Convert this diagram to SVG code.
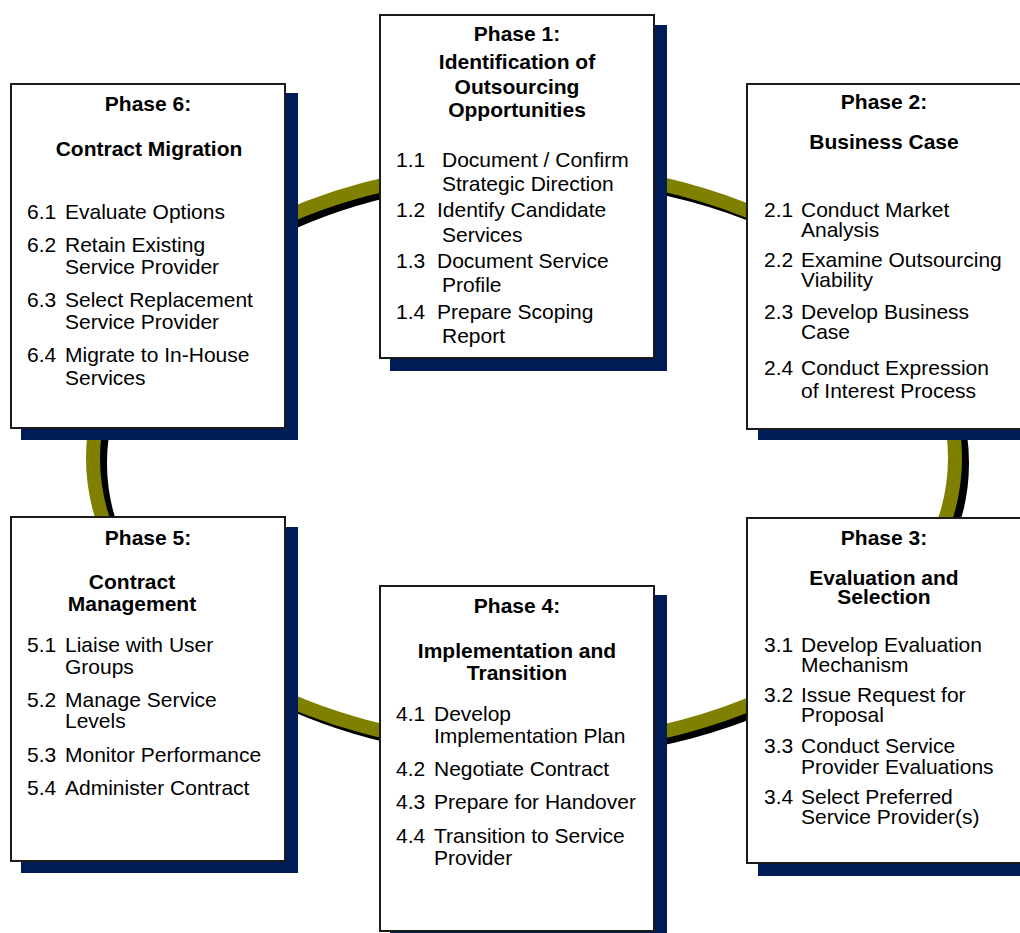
<svg xmlns="http://www.w3.org/2000/svg" width="1020" height="933" viewBox="0 0 1020 933">
<style>
.sh{fill:#001c57}
.bx{fill:#ffffff;stroke:#1a1a1a;stroke-width:2}
text{font-family:"Liberation Sans",Arial,sans-serif;font-size:21px;fill:#000}
.t{font-weight:bold;text-anchor:middle}
</style>
<rect width="1020" height="933" fill="#ffffff"/>
<g id="connectors">
<ellipse cx="531" cy="463" rx="431" ry="289" fill="none" stroke="#000" stroke-width="14"/>
<ellipse cx="524" cy="458" rx="431" ry="289" fill="none" stroke="#808000" stroke-width="14"/>
</g>
<g id="phase1">
<rect class="sh" x="390" y="25" width="277" height="346"/>
<rect class="bx" x="380" y="15" width="274" height="343"/>
<text class="t" x="517" y="41">Phase 1:</text>
<text class="t" x="517" y="69">Identification of</text>
<text class="t" x="517" y="94">Outsourcing</text>
<text class="t" x="517" y="117">Opportunities</text>
<text x="396" y="167">1.1</text><text x="442" y="167">Document / Confirm</text>
<text x="442" y="191">Strategic Direction</text>
<text x="396" y="217">1.2</text><text x="437" y="217">Identify Candidate</text>
<text x="442" y="242">Services</text>
<text x="396" y="268">1.3</text><text x="437" y="268">Document Service</text>
<text x="442" y="292">Profile</text>
<text x="396" y="319">1.4</text><text x="437" y="319">Prepare Scoping</text>
<text x="442" y="343">Report</text>
</g>
<g id="phase2">
<rect class="sh" x="758" y="94" width="262" height="346"/>
<rect class="bx" x="747" y="84" width="280" height="345"/>
<text class="t" x="884" y="109">Phase 2:</text>
<text class="t" x="884" y="149">Business Case</text>
<text x="764" y="217">2.1</text><text x="801" y="217">Conduct Market</text>
<text x="801" y="237">Analysis</text>
<text x="764" y="267">2.2</text><text x="801" y="267">Examine Outsourcing</text>
<text x="801" y="287">Viability</text>
<text x="764" y="319">2.3</text><text x="801" y="319">Develop Business</text>
<text x="801" y="339">Case</text>
<text x="764" y="375">2.4</text><text x="801" y="375">Conduct Expression</text>
<text x="801" y="398">of Interest Process</text>
</g>
<g id="phase3">
<rect class="sh" x="758" y="528" width="262" height="348"/>
<rect class="bx" x="747" y="518" width="280" height="345"/>
<text class="t" x="884" y="545">Phase 3:</text>
<text class="t" x="884" y="585">Evaluation and</text>
<text class="t" x="884" y="604">Selection</text>
<text x="764" y="652">3.1</text><text x="801" y="652">Develop Evaluation</text>
<text x="801" y="672">Mechanism</text>
<text x="764" y="702">3.2</text><text x="801" y="702">Issue Request for</text>
<text x="801" y="722">Proposal</text>
<text x="764" y="753">3.3</text><text x="801" y="753">Conduct Service</text>
<text x="801" y="774">Provider Evaluations</text>
<text x="764" y="804">3.4</text><text x="801" y="804">Select Preferred</text>
<text x="801" y="824">Service Provider(s)</text>
</g>
<g id="phase4">
<rect class="sh" x="390" y="595" width="277" height="345"/>
<rect class="bx" x="380" y="586" width="274" height="345"/>
<text class="t" x="517" y="613">Phase 4:</text>
<text class="t" x="517" y="658">Implementation and</text>
<text class="t" x="517" y="680">Transition</text>
<text x="396" y="721">4.1</text><text x="434" y="721">Develop</text>
<text x="434" y="743">Implementation Plan</text>
<text x="396" y="776">4.2</text><text x="434" y="776">Negotiate Contract</text>
<text x="396" y="809">4.3</text><text x="434" y="809">Prepare for Handover</text>
<text x="396" y="843">4.4</text><text x="434" y="843">Transition to Service</text>
<text x="434" y="865">Provider</text>
</g>
<g id="phase5">
<rect class="sh" x="21" y="527" width="277" height="346"/>
<rect class="bx" x="11" y="517" width="274" height="344"/>
<text class="t" x="148" y="545">Phase 5:</text>
<text class="t" x="132" y="589">Contract</text>
<text class="t" x="132" y="611">Management</text>
<text x="27" y="652">5.1</text><text x="65" y="652">Liaise with User</text>
<text x="65" y="674">Groups</text>
<text x="27" y="707">5.2</text><text x="65" y="707">Manage Service</text>
<text x="65" y="728">Levels</text>
<text x="27" y="762">5.3</text><text x="65" y="762">Monitor Performance</text>
<text x="27" y="795">5.4</text><text x="65" y="795">Administer Contract</text>
</g>
<g id="phase6">
<rect class="sh" x="21" y="93" width="277" height="347"/>
<rect class="bx" x="11" y="84" width="274" height="344"/>
<text class="t" x="148" y="111">Phase 6:</text>
<text class="t" x="149" y="156">Contract Migration</text>
<text x="27" y="219">6.1</text><text x="65" y="219">Evaluate Options</text>
<text x="27" y="252">6.2</text><text x="65" y="252">Retain Existing</text>
<text x="65" y="274">Service Provider</text>
<text x="27" y="307">6.3</text><text x="65" y="307">Select Replacement</text>
<text x="65" y="329">Service Provider</text>
<text x="27" y="362">6.4</text><text x="65" y="362">Migrate to In-House</text>
<text x="65" y="385">Services</text>
</g>
</svg>
